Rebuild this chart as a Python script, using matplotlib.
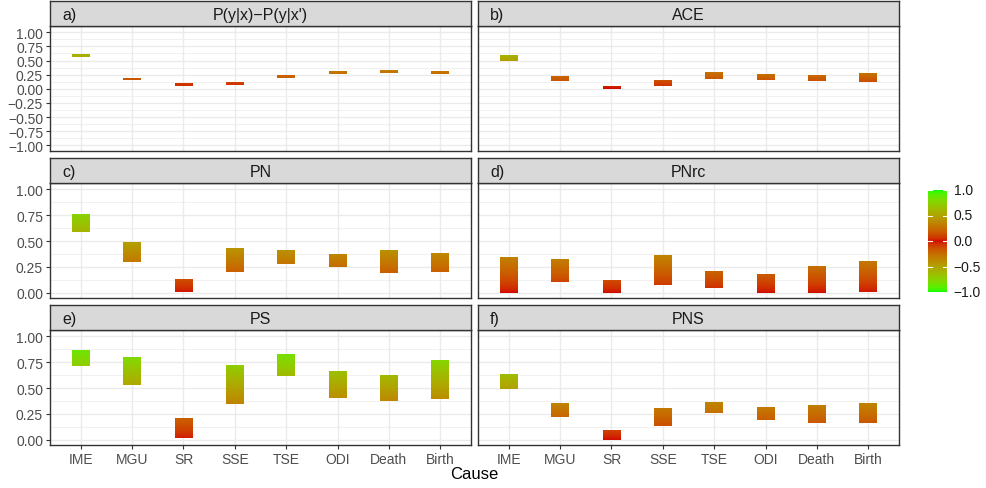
import numpy as np
import matplotlib
matplotlib.use("Agg")
import matplotlib.pyplot as plt
from matplotlib.colors import ListedColormap, Normalize, to_rgb

plt.rcParams['font.family'] = ['Liberation Sans', 'DejaVu Sans']

# ---------------- data ----------------
causes = ["IME", "MGU", "SR", "SSE", "TSE", "ODI", "Death", "Birth"]
panel_tags = ["a)", "b)", "c)", "d)", "e)", "f)"]
panel_titles = ["P(y|x)\u2212P(y|x')", "ACE", "PN", "PNrc", "PS", "PNS"]

pdiff_lo = [0.555, 0.150, 0.045, 0.060, 0.185, 0.255, 0.275, 0.255]
pdiff_hi = [0.595, 0.185, 0.085, 0.100, 0.225, 0.295, 0.320, 0.295]
ace_lo = [0.49, 0.145, -0.01, 0.055, 0.165, 0.16, 0.145, 0.125]
ace_hi = [0.58, 0.225, 0.035, 0.145, 0.280, 0.265, 0.245, 0.280]
pn_lo = [0.59, 0.30, 0.01, 0.20, 0.28, 0.245, 0.195, 0.20]
pn_hi = [0.76, 0.49, 0.135, 0.43, 0.41, 0.365, 0.415, 0.375]
pnrc_lo = [0.0, 0.105, 0.0, 0.075, 0.05, 0.0, 0.0, 0.01]
pnrc_hi = [0.34, 0.325, 0.125, 0.355, 0.21, 0.18, 0.26, 0.30]
ps_lo = [0.715, 0.525, 0.02, 0.35, 0.62, 0.40, 0.375, 0.39]
ps_hi = [0.860, 0.795, 0.205, 0.725, 0.83, 0.66, 0.620, 0.765]
pns_lo = [0.495, 0.22, 0.0, 0.135, 0.26, 0.19, 0.165, 0.165]
pns_hi = [0.635, 0.35, 0.095, 0.300, 0.36, 0.31, 0.330, 0.355]

lows = [pdiff_lo, ace_lo, pn_lo, pnrc_lo, ps_lo, pns_lo]
highs = [pdiff_hi, ace_hi, pn_hi, pnrc_hi, ps_hi, pns_hi]

row1_ticks = [1.0, 0.75, 0.5, 0.25, 0.0, -0.25, -0.5, -0.75, -1.0]
row_ticks = [1.0, 0.75, 0.5, 0.25, 0.0]
cbar_ticks = [1.0, 0.5, 0.0, -0.5, -1.0]

# ---------------- colour scale (Lab interpolation like ggplot gradient2) ----------------
def _lin(c):
    c = np.asarray(c, float)
    return np.where(c <= 0.04045, c / 12.92, ((c + 0.055) / 1.055) ** 2.4)

def _gam(c):
    c = np.clip(c, 0, 1)
    return np.where(c <= 0.0031308, 12.92 * c, 1.055 * c ** (1 / 2.4) - 0.055)

M = np.array([[0.4124, 0.3576, 0.1805], [0.2126, 0.7152, 0.0722], [0.0193, 0.1192, 0.9505]])
Mi = np.linalg.inv(M)
WP = np.array([0.95047, 1.0, 1.08883])

def rgb2lab(rgb):
    xyz = M @ _lin(rgb) / WP
    f = np.where(xyz > (6 / 29) ** 3, np.cbrt(xyz), xyz / (3 * (6 / 29) ** 2) + 4 / 29)
    return np.array([116 * f[1] - 16, 500 * (f[0] - f[1]), 200 * (f[1] - f[2])])

def lab2rgb(lab):
    fy = (lab[0] + 16) / 116
    fx = fy + lab[1] / 500
    fz = fy - lab[2] / 200
    f = np.array([fx, fy, fz])
    xyz = np.where(f > 6 / 29, f ** 3, 3 * (6 / 29) ** 2 * (f - 4 / 29)) * WP
    return _gam(Mi @ xyz)

end_lab = rgb2lab(to_rgb("#00FF00"))
mid_lab = rgb2lab(to_rgb("#D20500"))
vals = np.linspace(-1, 1, 256)
cols = [lab2rgb(mid_lab * (1 - abs(v)) + end_lab * abs(v)) for v in vals]
cmap = ListedColormap(cols)
norm = Normalize(-1, 1)

# ---------------- layout ----------------
W, H = 986, 489
fig = plt.figure(figsize=(W / 100, H / 100), dpi=100)

def fax(l, t, r, b):
    return [l / W, 1 - b / H, (r - l) / W, (b - t) / H]

cols_x = [(50, 471), (478, 899)]
rows_y = [(2, 27, 152), (159, 184, 299), (306, 331, 446)]

grey20 = "#333333"
grey30 = "#4D4D4D"
grid = "#EBEBEB"
xpos = np.arange(len(causes))
bw = 0.35

for i in range(6):
    r, c = divmod(i, 2)
    l, rr = cols_x[c]
    st, pt, pb = rows_y[r]
    ax = fig.add_axes(fax(l, pt, rr, pb))
    sax = fig.add_axes(fax(l, st, rr, pt))

    # strip
    sax.set_facecolor("#D9D9D9")
    sax.set_xticks([]); sax.set_yticks([])
    for s in sax.spines.values():
        s.set_color(grey20); s.set_linewidth(1.0)
    sax.text(0.5, 0.45, panel_titles[i], ha="center", va="center", fontsize=11.5,
             color="#1A1A1A", transform=sax.transAxes)
    sax.text(12 / (rr - l), 0.45, panel_tags[i], ha="left", va="center", fontsize=11.5,
             color="#1A1A1A", transform=sax.transAxes)

    if r == 0:
        ylim = (-1.1, 1.11)
        yt = row1_ticks
        minor = np.arange(-1.125, 1.126, 0.25)
    else:
        ylim = (-0.05, 1.06)
        yt = row_ticks
        minor = np.arange(-0.125, 1.126, 0.25)

    ax.set_facecolor("white")
    for m in minor:
        ax.axhline(m, color=grid, lw=0.5, zorder=0)
    for t in yt:
        ax.axhline(t, color=grid, lw=1.0, zorder=0)
    for x in xpos:
        ax.axvline(x, color=grid, lw=1.0, zorder=0)

    for x, lo, hi in zip(xpos, lows[i], highs[i]):
        grad = np.linspace(lo, hi, 64).reshape(-1, 1)
        ax.imshow(grad, extent=(x - bw / 2, x + bw / 2, lo, hi), origin="lower",
                  aspect="auto", cmap=cmap, norm=norm, interpolation="bilinear", zorder=2)

    ax.set_xlim(-0.6, 7.6)
    ax.set_ylim(*ylim)
    ax.set_yticks(yt)
    ax.set_xticks(xpos)
    for s in ax.spines.values():
        s.set_color(grey20); s.set_linewidth(1.0)
    ax.tick_params(colors=grey20, length=3, width=0.8, labelcolor=grey30, labelsize=10, pad=2)
    if c == 0:
        ax.set_yticklabels([f"{t:.2f}".replace("-", "\u2212") for t in yt])
    else:
        ax.tick_params(axis="y", left=False, labelleft=False)
    if r == 2:
        ax.set_xticklabels(causes)
    else:
        ax.tick_params(axis="x", bottom=False, labelbottom=False)

fig.text((50 + 899) / 2 / W, 1 - 475 / H, "Cause", ha="center", va="center",
         fontsize=12, color="black")

# colour bar
cax = fig.add_axes(fax(928, 191, 947, 293))
cax.imshow(vals.reshape(-1, 1), extent=(0, 1, -1, 1), origin="lower", aspect="auto",
           cmap=cmap, norm=norm, interpolation="bilinear")
cax.set_xlim(0, 1); cax.set_ylim(-1, 1)
for s in cax.spines.values():
    s.set_visible(False)
cax.set_xticks([]); cax.set_yticks([])
for t in cbar_ticks:
    cax.plot([0, 0.2], [t, t], color="white", lw=0.8)
    cax.plot([0.8, 1], [t, t], color="white", lw=0.8)
    cax.text(1.35, t, f"{t:.1f}".replace("-", "\u2212"), ha="left", va="center",
             fontsize=10, color="#1A1A1A", transform=cax.transData, clip_on=False)

fig.savefig("out.png", dpi=100)
